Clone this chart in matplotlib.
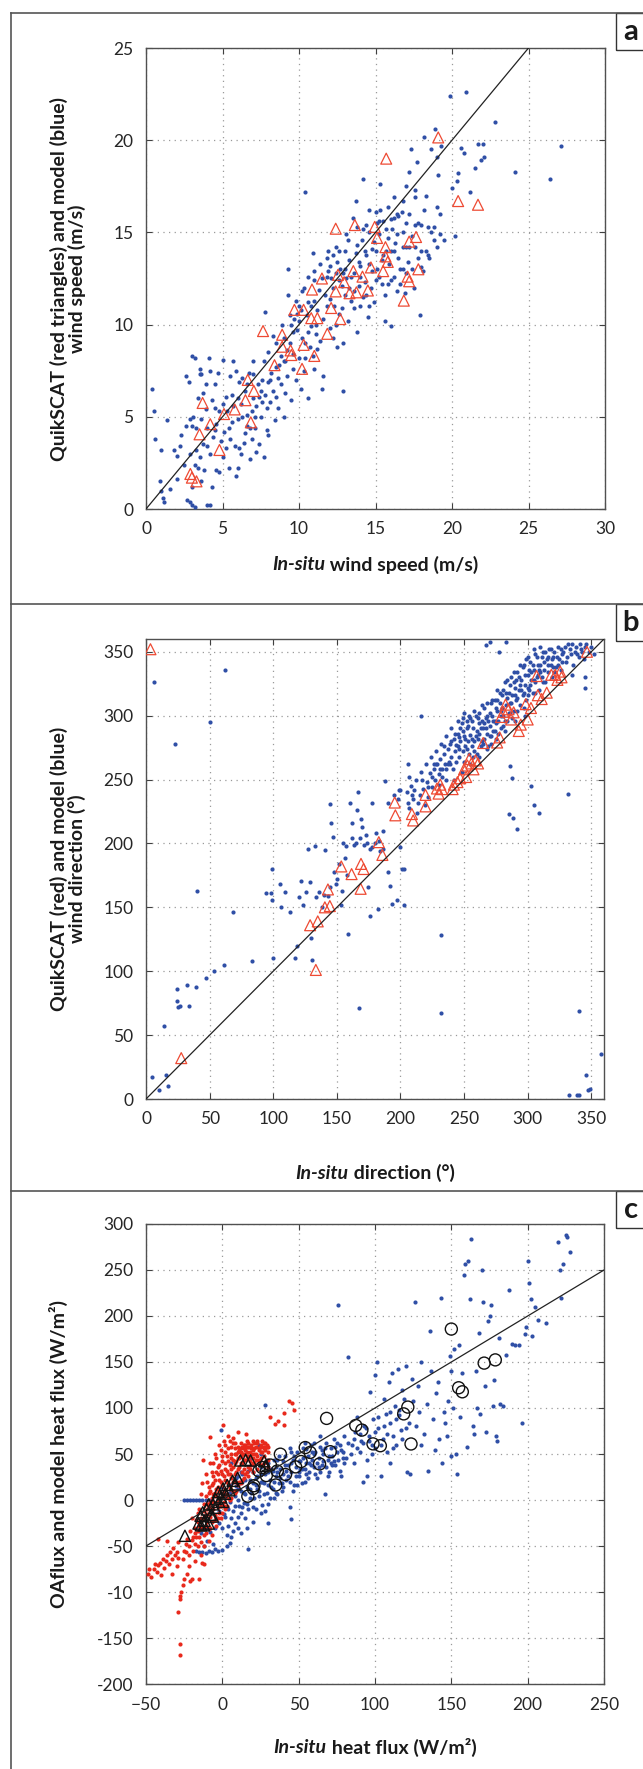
import numpy as np
import matplotlib
matplotlib.use("Agg")
import matplotlib.pyplot as plt
from matplotlib.lines import Line2D
from matplotlib.patches import Rectangle

# =========================================================
# DATA
# =========================================================
# panel a: wind speed (m/s), in-situ vs model (blue) / QuikSCAT (red)
speed_model = [
    (0.4, 6.5), (0.5, 5.3), (0.6, 3.8), (0.9, 1.5), (1.0, 1.0), (1.1, 0.6), (1.2, 0.4), (1.0, 3.2),
    (1.4, 4.8), (1.6, 1.1), (1.8, 3.2), (2.0, 2.9), (2.2, 3.4), (2.5, 2.4), (2.6, 4.5), (2.6, 7.2),
    (2.8, 6.9), (2.7, 0.5), (2.9, 0.4), (3.0, 0.2), (3.2, 0.1), (3.0, 8.3), (3.2, 8.2), (3.0, 4.5),
    (3.1, 5.0), (3.3, 4.4), (3.4, 6.0), (3.5, 7.3), (3.5, 7.6), (3.6, 7.3), (3.2, 2.4), (3.4, 2.2),
    (3.6, 1.5), (3.7, 3.5), (3.8, 2.1), (3.0, 1.2), (3.3, 3.2), (3.7, 6.3), (3.9, 5.4), (4.0, 4.4),
    (4.1, 8.2), (4.2, 7.5), (4.3, 1.2), (4.0, 0.2), (4.2, 0.2), (4.5, 6.8), (4.6, 4.6), (4.6, 2.1),
    (4.8, 2.0), (4.8, 5.3), (4.9, 3.7), (5.0, 8.1), (4.4, 3.9), (2.9, 4.9), (3.9, 6.8), (4.3, 5.9),
    (5.1, 4.2), (5.2, 3.3), (5.3, 5.3), (5.4, 2.2), (5.5, 7.2), (5.6, 6.2), (5.7, 8.0), (5.8, 3.4),
    (5.9, 1.8), (6.0, 4.9), (6.0, 2.2), (6.1, 6.9), (6.2, 5.7), (6.3, 7.1), (6.4, 3.6), (6.5, 4.1),
    (6.5, 6.4), (6.6, 5.1), (6.7, 7.4), (6.8, 2.7), (6.9, 3.8), (7.0, 6.0), (7.0, 8.0), (7.1, 4.4),
    (7.2, 5.6), (7.3, 6.8), (7.4, 3.5), (7.5, 5.0), (7.6, 7.0), (7.7, 2.8), (7.8, 6.2), (7.8, 10.7),
    (7.9, 4.3), (8.0, 8.5), (8.1, 5.8), (8.2, 7.4), (8.3, 6.4), (8.4, 4.8), (8.5, 9.0), (8.6, 5.5),
    (8.7, 7.8), (8.8, 6.8), (8.9, 10.0), (9.0, 8.0), (9.1, 6.3), (9.2, 7.2), (9.3, 11.6), (9.3, 13.0),
    (9.4, 9.0), (9.5, 5.9), (9.6, 8.4), (9.7, 10.3), (9.8, 7.0), (9.9, 9.7), (10.0, 8.2), (10.0, 11.0),
    (10.1, 6.5), (10.2, 9.3), (10.3, 7.5), (10.3, 12.0), (10.4, 17.2), (10.5, 10.5), (10.6, 6.0),
    (10.7, 8.8), (10.8, 9.9), (10.9, 13.9), (11.0, 11.3), (11.0, 7.6), (11.1, 9.5), (11.2, 10.8),
    (5.6, 4.7), (6.2, 3.0), (6.9, 5.3), (7.4, 6.1), (8.0, 4.0), (8.6, 7.1), (9.0, 5.0), (9.6, 7.6),
    (10.4, 9.0), (10.9, 8.3), (11.3, 11.9), (11.4, 9.1), (11.6, 7.2),
    (11.5, 12.5), (11.5, 6.5), (11.8, 11.0), (11.9, 14.0), (12.0, 9.8), (12.0, 13.2), (12.2, 12.0),
    (12.3, 11.0), (12.4, 14.2), (12.5, 8.8), (12.6, 10.6), (12.7, 13.0), (12.8, 12.1), (12.9, 6.4),
    (12.9, 9.0), (13.0, 14.0), (13.1, 12.5), (13.2, 10.2), (13.3, 13.5), (13.4, 11.3), (13.5, 15.8),
    (13.6, 12.8), (13.7, 16.7), (13.8, 9.6), (13.9, 13.4), (14.0, 11.0), (14.1, 14.6), (14.2, 17.9),
    (14.3, 12.3), (14.4, 13.8), (14.5, 10.4), (14.6, 15.0), (14.7, 12.0), (14.8, 14.1), (14.9, 11.2),
    (15.0, 16.1), (15.1, 13.0), (15.2, 14.9), (15.3, 17.6), (15.4, 12.2), (15.5, 15.6), (15.6, 10.2),
    (15.7, 14.0), (15.8, 16.4), (15.9, 13.3), (16.0, 9.9), (16.1, 15.2), (16.2, 12.6), (16.3, 14.4),
    (16.4, 11.8), (16.5, 15.9), (16.6, 13.0), (16.7, 16.1), (16.8, 14.2), (16.9, 11.7), (17.0, 15.5),
    (17.1, 13.4), (17.2, 18.3), (17.3, 19.5), (17.4, 14.8), (17.5, 12.0), (17.6, 16.9), (17.7, 18.8),
    (17.8, 13.6), (17.9, 10.5), (18.0, 15.4), (18.1, 12.9), (18.2, 20.2), (18.3, 14.0), (18.4, 15.3),
    (18.5, 13.6), (18.6, 19.5), (18.8, 14.6), (18.9, 20.6), (19.0, 16.4), (19.1, 18.1), (19.2, 16.0),
    (19.3, 19.7), (19.5, 14.6), (19.9, 22.4), (20.0, 17.4), (20.2, 14.8), (20.3, 17.8), (20.4, 18.2),
    (20.6, 19.6), (20.8, 19.3), (20.9, 22.6), (21.2, 17.2), (21.5, 18.5), (21.7, 19.8), (21.9, 18.9),
    (22.0, 19.8), (22.1, 19.1), (22.8, 21.0), (24.1, 18.3), (26.4, 17.9), (27.1, 19.7),
    (12.2, 13.8), (12.6, 12.4), (13.0, 11.6), (13.3, 12.0), (13.7, 13.9), (14.0, 12.6), (14.2, 15.2),
    (14.6, 13.3), (14.9, 14.5), (15.2, 12.6), (15.5, 13.8), (15.7, 15.2), (16.0, 14.0), (16.2, 15.8),
    (16.5, 13.6), (16.8, 15.0), (17.2, 14.2), (17.6, 15.4), (18.0, 14.0), (18.6, 15.0), (19.0, 14.2),
    (11.8, 12.6), (12.4, 10.0), (13.6, 11.8), (14.4, 11.6), (15.0, 12.4), (15.8, 12.2), (16.4, 14.9),
    (17.0, 12.8), (11.0, 12.4), (10.6, 11.2), (9.9, 10.6),
    (2.0, 1.6), (2.3, 4.0), (2.9, 3.0), (3.6, 4.9), (4.2, 3.0), (4.5, 5.5), (4.7, 7.4), (5.0, 2.8),
    (5.2, 6.1), (5.4, 4.4), (5.7, 5.6), (5.9, 7.5), (6.1, 3.3), (6.3, 5.0), (6.6, 6.8), (6.8, 4.4),
    (7.0, 7.3), (7.2, 3.1), (7.5, 6.4), (7.7, 8.0), (7.9, 5.5), (8.1, 7.0), (8.3, 9.4), (8.5, 6.1),
    (8.8, 8.3), (9.0, 9.3), (9.2, 8.6), (9.4, 10.5), (9.6, 9.6), (9.8, 11.3), (10.0, 10.2),
    (10.2, 11.8), (10.4, 8.2), (10.6, 12.6), (10.8, 11.0), (11.0, 12.9), (11.2, 8.7), (11.4, 13.3),
    (11.6, 10.3), (11.8, 13.6), (12.0, 11.4), (12.2, 9.3), (12.4, 12.8), (12.6, 14.0), (12.8, 10.9),
    (13.0, 13.0), (13.2, 14.6), (13.4, 12.6), (13.6, 10.9), (13.8, 14.3), (14.0, 13.2), (14.2, 11.5),
    (14.4, 15.4), (14.6, 11.0), (14.8, 12.9), (15.0, 14.0), (15.2, 15.6), (15.4, 13.5), (15.6, 11.6),
    (15.8, 14.7), (16.0, 12.4), (16.2, 14.0), (16.4, 16.0), (16.6, 12.2), (16.8, 13.0), (17.0, 14.2),
    (17.2, 16.0), (17.4, 13.0), (17.6, 14.2), (17.8, 15.5), (18.0, 13.1), (18.2, 16.2), (18.4, 13.8),
    (18.8, 15.3), (19.2, 14.9), (19.0, 19.1), (18.3, 17.0), (17.0, 17.5), (16.2, 16.9), (15.1, 15.5),
    (14.3, 14.0), (13.9, 12.1), (12.9, 12.8), (12.1, 12.5), (11.7, 11.6), (11.1, 10.0), (10.6, 9.6),
    (10.1, 10.8), (9.5, 10.0), (9.1, 8.0), (8.5, 7.7), (8.0, 6.9), (7.6, 5.8), (7.1, 5.0), (6.6, 4.5),
    (6.0, 6.0), (5.5, 3.8), (5.0, 5.7), (4.5, 4.3), (4.0, 3.4), (3.5, 2.8), (15.3, 16.2), (16.0, 15.7),
    (16.8, 16.7), (17.6, 17.3), (14.6, 16.2), (13.8, 15.3), (13.1, 14.9), (12.5, 13.4), (11.9, 12.9),
]
speed_qscat = [
    (2.9, 1.9), (3.0, 1.7), (3.3, 1.5), (3.5, 4.05), (3.7, 5.75), (4.2, 4.6), (4.8, 3.2), (5.1, 5.15),
    (5.8, 5.4), (6.5, 5.9), (6.65, 7.0), (6.85, 4.7), (7.05, 6.4), (7.65, 9.65), (8.4, 7.8),
    (8.9, 9.45), (8.9, 8.8), (9.45, 8.6), (9.5, 8.35), (9.7, 10.8), (10.3, 8.9), (10.2, 7.6),
    (10.3, 10.8), (10.8, 10.35), (10.85, 11.9), (11.0, 8.3), (11.2, 10.35), (11.5, 12.5),
    (11.85, 9.5), (12.1, 10.9), (12.4, 15.2), (12.4, 11.8), (12.55, 12.7), (12.7, 10.3),
    (12.95, 12.3), (13.3, 11.7), (13.55, 12.9), (13.65, 15.4), (13.75, 11.75), (14.15, 12.6),
    (14.5, 11.85), (14.7, 13.1), (14.95, 15.3), (15.1, 14.7), (15.65, 14.2), (15.7, 19.0),
    (15.5, 12.9), (15.65, 13.7), (15.8, 13.4), (16.85, 11.3), (17.1, 12.6), (17.2, 12.35),
    (17.2, 14.5), (17.65, 14.75), (17.8, 13.0), (19.1, 20.15), (20.4, 16.7), (21.7, 16.5),
]

# panel b: wind direction (degrees)
dir_model = [
    (4.8, 17), (6.5, 326), (10.6, 7), (15.5, 19), (17, 10), (14, 57.5), (23, 278), (24, 77),
    (24.5, 86), (25, 72), (26.8, 72.5), (32.6, 89), (34, 73), (39, 88), (39.7, 163), (46.8, 95),
    (50, 295), (53.5, 100), (61.6, 105), (62, 336), (68, 146), (83, 108), (94.5, 161), (98, 161),
    (99, 180), (99, 156), (100, 110), (105, 168), (106, 150), (109, 162), (113, 146), (117, 110),
    (118.7, 120), (120, 158), (122, 171), (127, 196), (123.5, 152), (126, 162), (129, 170),
    (130.6, 109), (130, 126), (133, 198), (134, 158), (136, 162), (141, 195), (143, 159),
    (144.5, 231), (145.5, 216), (147, 205), (148, 178), (149, 168), (152, 184), (153, 152),
    (155, 200), (156.5, 189), (158, 175), (159, 129), (160, 232), (161.6, 216), (162, 204),
    (163.5, 199), (165.5, 226), (167, 240), (167.4, 71), (168.7, 219), (170, 213), (171, 199),
    (173, 207), (174.5, 166), (176, 143), (177.7, 232), (178, 197), (180.6, 208), (182, 149),
    (184, 194), (186.5, 210), (188, 249), (190.6, 178), (192, 167), (193, 153), (197, 156),
    (197.7, 235), (199.6, 242), (200, 197), (201.6, 180), (202.6, 152), (205.8, 262), (207, 252),
    (138, 150), (140, 160), (145, 166), (150, 172), (154, 163), (157, 198), (165, 200), (168, 204),
    (174, 200), (176, 196), (180, 200), (183, 202), (186, 196), (190, 232), (195, 238),
    (205, 240), (207, 228), (208, 245), (210, 235), (212, 250), (213, 224), (215, 238), (216, 256),
    (218, 243), (219, 230), (220, 262), (221, 248), (222, 236), (223, 255), (224, 268), (225, 244),
    (226, 258), (227, 250), (228, 272), (229, 262), (230, 254), (231, 266), (232, 278), (233, 258),
    (234, 270), (235, 262), (236, 284), (237, 274), (238, 264), (239, 278), (240, 268), (240, 290),
    (241, 258), (242, 282), (243, 272), (244, 264), (245, 286), (245, 276), (246, 268), (247, 280),
    (248, 294), (249, 272), (250, 284), (250, 264), (251, 276), (252, 290), (253, 280), (254, 270),
    (255, 298), (255, 285), (256, 276), (257, 290), (258, 280), (259, 300), (260, 288), (260, 270),
    (261, 282), (262, 294), (263, 276), (264, 308), (265, 290), (266, 282), (267, 298), (268, 286),
    (269, 276), (270, 302), (270, 292), (271, 284), (272, 312), (273, 296), (274, 288), (275, 306),
    (276, 320), (277, 296), (278, 310), (279, 290), (280, 316), (281, 300), (282, 326), (283, 308),
    (284, 296), (285, 318), (286, 310), (287, 330), (288, 316), (289, 304), (290, 322), (291, 312),
    (292, 334), (293, 320), (294, 308), (295, 328), (296, 316), (297, 340), (298, 324), (299, 312),
    (300, 332), (301, 320), (302, 342), (303, 328), (304, 318), (305, 336), (306, 326), (307, 346),
    (308, 332), (309, 320), (310, 340), (311, 330), (312, 350), (313, 336), (314, 326), (315, 344),
    (316, 334), (317, 352), (318, 340), (319, 330), (320, 346), (322, 338), (324, 354), (325, 344),
    (326, 336), (328, 350), (330, 342), (332, 356), (334, 348), (336, 340), (338, 354), (340, 346),
    (342, 352), (344, 344), (346, 356), (348, 350), (350, 354), (352, 348), (345, 330), (335, 332),
    (298, 300), (290, 296), (282, 288), (275, 282), (268, 274), (262, 268), (255, 262), (248, 256),
    (242, 250), (236, 250), (230, 246), (244, 277), (246, 283), (249, 288), (252, 274), (256, 282),
    (258, 272), (262, 286), (264, 280), (266, 294), (268, 300), (271, 278), (274, 296), (277, 286),
    (279, 304), (281, 292), (284, 314), (286, 302), (289, 326), (292, 314), (294, 324), (297, 306),
    (300, 322), (303, 334), (306, 318), (309, 336), (312, 326), (316, 340), (321, 334), (327, 342),
    (225, 252), (228, 262), (231, 258), (234, 276), (237, 262), (240, 280), (243, 286), (246, 274),
    (247, 290), (249, 298), (251, 282), (253, 292), (254, 300), (256, 296), (257, 268), (259, 284),
    (261, 298), (263, 290), (264, 296), (265, 278), (267, 290), (268, 310), (269, 296), (270, 284),
    (272, 300), (273, 288), (274, 312), (275, 294), (276, 304), (278, 318), (279, 300), (280, 306),
    (281, 320), (282, 296), (283, 318), (285, 302), (286, 324), (287, 310), (288, 298), (290, 316),
    (291, 328), (292, 304), (293, 330), (295, 320), (296, 338), (297, 318), (298, 332), (299, 344),
    (300, 316), (301, 336), (302, 324), (304, 340), (305, 328), (306, 348), (307, 330), (308, 340),
    (310, 334), (311, 346), (313, 342), (314, 350), (316, 346), (318, 352), (319, 344), (320, 338),
    (321, 350), (323, 346), (324, 340), (326, 352), (327, 348), (329, 354), (331, 346), (333, 352),
    (335, 356), (337, 350), (339, 348), (341, 356), (343, 350), (345, 354), (239, 262), (236, 258),
    (233, 252), (226, 262), (222, 244), (217, 250), (214, 232), (211, 242), (209, 238), (206, 232),
    (245, 296), (250, 302), (252, 296), (258, 304), (262, 302), (266, 306), (271, 310), (276, 312),
    (284, 328), (289, 334), (294, 340), (300, 346), (305, 352), (310, 354),
    (232, 128), (232, 67), (286.5, 261), (288, 251), (285, 223), (288.5, 220), (291.8, 211),
    (302.9, 245), (304.8, 230), (308.7, 224), (332, 239), (340, 69), (345, 322), (346, 19),
    (349, 8), (347.7, 7), (332.6, 3), (338.7, 3), (340, 3.5), (358, 35), (277.7, 350),
    (282.6, 358), (267, 355), (270.6, 358), (216, 300), (199, 242), (203, 180),
]
dir_qscat = [
    (3.5, 352), (27.7, 32), (133.5, 101), (129, 136), (135, 139), (140.6, 150), (143, 164),
    (144.5, 151), (153.5, 182), (161.6, 176), (169, 184), (171, 180), (168.7, 164.5), (183, 201),
    (185.8, 191), (195.5, 232), (196, 222), (209, 223), (210, 218), (219.7, 238), (219.7, 229),
    (228.7, 243), (230, 239), (231.3, 246), (232.6, 242.5), (241, 242.5), (242, 246), (244.8, 248),
    (247, 251), (250, 258), (251.6, 252), (252.6, 261), (254, 266), (255.8, 262.6), (257.4, 258),
    (259, 265), (261, 262.6), (265, 278.6), (276, 279), (278, 283), (281, 303), (279, 299),
    (282.6, 308.6), (285, 305), (287, 297), (289, 302.6), (293, 288), (294.6, 293), (298.5, 309),
    (300, 297), (302.6, 306), (307, 331), (308, 316), (311, 313), (315, 318), (318.6, 332),
    (321.7, 332), (323.4, 328), (325.6, 334.5), (326.6, 330), (346.6, 350),
]

# panel c: heat flux (W/m2)
flux_model = [
    (-25, 0), (-23, 0), (-21, 0), (-19, 0), (-17, 0), (-15, 0), (-13, 0), (-11, 0), (-9, 0), (-7, 0),
    (-17, -55), (-15, -57), (-13, -56), (-11, -58), (-9, -55), (-7, -57), (-5, -53), (-3, -55),
    (0, -54), (3, -50), (5, -47), (-14, -36), (-10, -30),
    (-4, -20), (-2, -12), (0, -5), (1, -15), (2, 2), (3, -8), (4, 6), (5, -2), (6, 10), (7, -12),
    (8, 4), (9, 15), (10, 0), (11, -6), (12, 10), (13, 20), (14, -3), (15, 6), (16, 14), (17, -10),
    (18, 22), (19, 8), (20, 30), (21, 2), (22, 16), (23, 26), (24, 10), (25, 36), (26, -5),
    (27, 18), (28, 28), (29, 8), (30, 40), (31, 22), (32, 14), (33, 32), (34, 2), (35, 26),
    (36, 44), (37, 18), (38, 34), (39, 10), (40, 28), (41, 48), (42, 22), (43, 38), (44, -8),
    (45, 30), (46, 44), (47, 16), (48, 36), (49, 52), (50, 26), (51, 42), (52, 34), (53, 56),
    (54, 20), (55, 40), (56, 48), (57, 30), (58, 60), (59, 44), (60, 36), (61, 52), (62, 24),
    (63, 46), (64, 58), (65, 38), (66, 50), (67, 6), (68, 62), (69, 44), (70, 30), (71, 56),
    (72, 48), (73, 66), (74, 38), (75, 52), (76, 212), (77, 60), (78, 26), (79, 46), (80, 70),
    (-1, 76), (18, 45), (28, 103), (25, 50), (15, -20), (10, -30), (22, -10), (30, -4), (35, 8),
    (45, -21), (17, -53), (6, 40), (12, 30), (24, 60), (34, 44), (44, 56), (54, 62), (64, 70),
    (82, 155), (85, 60), (86, 40), (87, 74), (88, 90), (90, 52), (91, 64), (92, 20), (93, 80),
    (95, 44), (96, 70), (97, 117), (98, 60), (99, 88), (100, 136), (101, 150), (102, 78), (104, 26),
    (105, 66), (106, 110), (107, 94), (108, 52), (109, 128), (110, 84), (111, 138), (112, 70),
    (113, 102), (114, 60), (115, 142), (116, 92), (117, 76), (118, 120), (119, 110), (120, 146),
    (121, 30), (122, 84), (123, 28), (124, 132), (125, 108), (126, 215), (127, 80), (128, 124),
    (129, 96), (130, 150), (132, 72), (134, 104), (135, 32), (136, 184), (137, 140), (138, 88),
    (139, 54), (140, 116), (141, 128), (142, 66), (143, 220), (144, 40), (145, 96), (146, 84),
    (147, 70), (148, 108), (149, 156), (150, 140), (151, 100), (152, 164), (153, 50), (154, 28),
    (155, 168), (156, 90), (157, 138), (158, 245), (159, 256), (160, 58), (161, 260), (162, 218),
    (163, 284), (164, 80), (165, 72), (166, 140), (167, 100), (168, 182), (169, 94), (170, 250),
    (171, 215), (172, 124), (173, 74), (174, 195), (175, 200), (176, 212), (177, 102), (178, 130),
    (179, 70), (180, 64), (181, 176), (182, 104), (184, 102), (186, 158), (188, 228), (190, 170),
    (192, 168), (194, 168), (196, 84), (198, 180), (199, 188), (200, 260), (201, 236), (202, 218),
    (203, 178), (205, 210), (207, 196), (212, 192), (220, 280), (221, 250), (222, 220), (223, 256),
    (225, 288), (228, 270), (226, 286), (95, 26), (100, 56), (110, 40), (130, 60), (150, 48),
    (2, -18), (4, -10), (6, -20), (8, -6), (10, 12), (12, -14), (14, 8), (16, -4), (18, 12), (20, -8),
    (22, 24), (24, 4), (26, 20), (28, -12), (30, 16), (32, 34), (34, 20), (36, 6), (38, 24), (40, 14),
    (42, 32), (44, 20), (46, 10), (48, 26), (50, 42), (52, 18), (54, 34), (56, 24), (58, 38),
    (60, 50), (62, 40), (64, 30), (66, 42), (68, 36), (70, 48), (72, 38), (74, 58), (76, 44),
    (78, 54), (80, 40), (82, 62), (84, 50), (86, 66), (88, 56), (90, 72), (92, 62), (94, 78),
    (96, 64), (98, 50), (100, 74), (102, 90), (104, 60), (106, 80), (108, 72), (110, 96), (112, 56),
    (114, 88), (116, 98), (118, 66), (120, 78), (5, 16), (9, 24), (13, 28), (17, 32), (21, 38),
    (25, 20), (29, 44), (33, 12), (37, 48), (41, 38), (45, 52), (49, 16), (53, 46), (57, 40),
    (61, 28), (65, 54), (69, 26), (73, 42), (77, 32), (81, 46), (60, 62), (55, 55), (50, 30),
    (45, 40), (40, 42), (35, 36), (30, 30), (25, 28), (20, 18), (15, 22), (10, 26), (5, 8), (0, 14),
    (-2, -25), (-5, -30), (-8, -35), (0, -30), (3, -38), (8, -25), (12, -36), (16, -30), (20, -24),
    (25, -14), (30, -25), (6, -40), (-10, -45), (-12, -50), (-6, -48),
    (4, -28), (7, -34), (10, -18), (13, -8), (18, 2), (23, 12), (27, 6), (31, 2), (36, 30), (39, 18),
    (43, 26), (47, 48), (51, 34), (55, 28), (59, 52), (63, 36), (67, 56), (71, 40), (75, 62), (79, 52),
]
flux_oaflux = [
    (-49, -80), (-48, -75), (-47, -84), (-45, -75), (-44, -70), (-43, -78), (-42, -71), (-41, -68),
    (-40, -82), (-39, -64), (-38, -74), (-37, -66), (-36, -60), (-35, -70), (-34, -56), (-33, -64),
    (-32, -52), (-31, -60), (-30, -56), (-29, -46), (-29, -63), (-28, -104), (-28, -108),
    (-27, -100), (-29, -122), (-28, -156), (-28, -169), (-26, -92), (-25, -86), (-25, -55),
    (-24, -48), (-23, -80), (-22, -72), (-21, -88), (-20, -86), (-19, -55), (-18, -48), (-17, -40),
    (-16, -34), (-15, -28), (-14, -46), (-13, -68), (-12, -38), (-42, -42), (-36, -45),
    (-12.7, 43.5), (-8.3, 68.9), (10, 74.2), (15.3, 72), (7.3, 67.7), (0.5, 81), (31.5, 90.6),
    (36.3, 85.7), (40.3, 81.8), (43.8, 107.7), (45.4, 105.8), (47, 98), (40.6, 95), (34.7, 83),
    (-14, -20), (-12, -12), (-10, -24), (-9, -6), (-8, -18), (-7, 2), (-6, -10), (-5, 8), (-4, -4),
    (-3, 14), (-2, 0), (-1, 20), (0, 6), (1, 26), (2, 12), (3, 32), (4, 18), (5, 38), (6, 24),
    (7, 44), (8, 28), (9, 50), (10, 34), (11, 54), (12, 40), (13, 58), (14, 44), (15, 60), (16, 48),
    (17, 62), (18, 52), (19, 56), (20, 64), (21, 50), (22, 58), (23, 62), (24, 54), (25, 60),
    (26, 64), (27, 56), (28, 62), (29, 58), (30, 52), (-11, 4), (-9, 14), (-6, 26), (-3, 36),
    (0, 42), (3, 48), (-16, -14), (-13, -30), (-11, -36), (-8, -30), (-5, -22), (-2, -14),
    (1, -6), (4, 2), (7, 10), (10, 16), (13, 22), (16, 30), (19, 38), (22, 44), (25, 46),
    (-10, 20), (-7, 30), (-4, 46), (-1, 54), (2, 60), (5, 64), (-15, -40), (-12, -50), (-18, -30),
    (-20, -20), (-6, 40), (8, 56), (12, 48), (-1, 32), (2, 40), (6, 50), (14, 34), (18, 42),
    (20, 46), (24, 40), (27, 48), (30, 44),
    (-13, -22), (-11, -28), (-9, -32), (-7, -24), (-5, -16), (-3, -8), (-1, 2), (1, 10), (3, 20),
    (5, 28), (7, 36), (9, 42), (11, 46), (13, 50), (15, 54), (17, 58), (19, 60), (21, 62), (23, 64),
    (25, 58), (27, 62), (29, 60), (-12, -4), (-10, -10), (-8, -2), (-6, 6), (-4, 12), (-2, 22),
    (0, 28), (2, 34), (4, 42), (6, 46), (8, 50), (10, 58), (12, 62), (14, 56), (16, 52), (18, 58),
    (20, 54), (-15, -10), (-17, -22), (-19, -40), (-21, -34), (-23, -42), (-16, -50), (-14, -60),
    (-12, -70), (-9, -45), (-7, -38), (-4, -28), (-1, -20), (2, -10), (5, 0), (8, 8), (11, 20),
    (14, 24), (17, 26), (20, 30), (23, 34), (26, 38), (-26, -64), (-30, -72), (-33, -80),
    (-22, -60), (-18, -66), (-15, -86),
    (-10, -15), (-8, -8), (-6, -2), (-4, 4), (-2, 10), (0, 16), (2, 22), (4, 28), (6, 34), (8, 40),
    (10, 46), (12, 52), (14, 60), (16, 64), (18, 48), (20, 40), (22, 50), (24, 56), (26, 52),
    (28, 54), (30, 58), (-9, 8), (-7, 16), (-5, 22), (-3, 28), (-1, -6), (1, -2), (3, 6), (5, 12),
    (7, 20), (9, 30), (11, 36), (13, 40), (15, 44), (17, 46), (19, 50), (21, 56), (23, 48),
    (25, 52), (27, 58), (-14, -30), (-12, -20), (-10, -4), (-8, 10), (-6, 18), (-4, 30), (-2, 38),
    (0, 48), (2, 52), (4, 56), (6, 58), (8, 62), (10, 52), (12, 56), (14, 50), (16, 58), (-3, -20),
    (0, -14), (3, -6), (6, 2), (9, 10), (12, 18), (15, 28), (18, 34), (21, 40), (24, 44), (27, 40),
    (30, 36), (-16, -24), (-18, -36), (-20, -44), (-22, -50), (-24, -56), (-11, -16), (-7, -10),
    (-3, -2), (1, 4), (5, 14), (9, 20), (13, 30), (17, 36), (-8, 40), (-5, 50), (-2, 60), (1, 64),
    (4, 70), (7, 62), (-11, 28), (-13, 18), (-14, 6),
]
flux_oaflux_bin = [
    (-24.5, -38.9), (-14.2, -17.2), (-12.9, -13.4), (-11.6, -22.5), (-10.2, -10.3), (-8.9, -25.6),
    (-15.6, -25.6), (-12, -27.5), (-7.6, -16), (-6.2, -4.7), (-4.3, 1), (-2.7, 8.7), (-0.8, 3),
    (0.5, 12.5), (1.9, 6.8), (3.2, 16.3), (4.6, 10.6), (6.7, 20.9), (8.6, 17), (10, 24),
    (11.8, 43), (15.3, 43.7), (18.5, 43), (27.4, 42.2), (28.2, 37.2), (-2.2, -2), (0.5, -2),
    (-4.8, -8.4), (-8.9, -4.7), (-6.2, -18), (-14, -27.5),
]
flux_model_bin = [
    (150, 185.8), (171.5, 148.8), (178.8, 152.3), (154.8, 122), (157.2, 117.6), (121.5, 101),
    (118.8, 93.6), (123.6, 60.9), (98.7, 61), (103.5, 59), (87.4, 81), (91.4, 76), (68.3, 88.7),
    (70.7, 52.5), (63.7, 39.2), (54.3, 57), (57.5, 51.7), (51.6, 41.8), (48, 36), (38, 49.8),
    (31.5, 38), (28.8, 26.6), (36, 31.5), (41.4, 27.7), (35, 16.3), (24, 31.5), (20.7, 15.5),
    (20.2, 12.5), (16.7, 4.1), (26, 35.3),
]

flux_yticks = [-200, -150, -100, -50, 0, 50, 100, 150, 200, 250, 300]
flux_yticklabels = ["-200", "-150", "-10", "-50", "0", "50", "100", "150", "200", "250", "300"]

# =========================================================
# PLOT SETTINGS
# =========================================================
W, H = 643, 1769
DPI = 100

plt.rcParams.update({
    "font.family": ["Lato", "DejaVu Sans"],
    "font.size": 12.5,
    "xtick.labelsize": 12.5,
    "ytick.labelsize": 12.5,
    "axes.linewidth": 1.0,
})

BLUE = "#2f4fa6"
RED = "#e8291c"
TRI_RED = "#ee4a33"
SPINE = "#505050"
LABEL_SIZE = 14

fig = plt.figure(figsize=(W / DPI, H / DPI), dpi=DPI)


def px_axes(left, top, right, bottom):
    return fig.add_axes([left / W, 1 - bottom / H, (right - left) / W, (bottom - top) / H])


def style_axes(ax, xlim, ylim, xticks, yticks):
    ax.set_xlim(*xlim)
    ax.set_ylim(*ylim)
    ax.set_xticks(xticks)
    ax.set_yticks(yticks)
    ax.grid(True, color="#9a9a9a", linestyle=(0, (1, 3.5)), linewidth=0.9)
    ax.set_axisbelow(True)
    ax.tick_params(direction="in", length=4, width=0.8, color="#404040",
                   top=True, right=True, pad=9, labelcolor="#262626")
    for s in ax.spines.values():
        s.set_color(SPINE)
        s.set_linewidth(1.0)


def xlabel_parts(ax, italic, rest, y_px):
    # bold-italic "In-situ" followed by bold plain text, centred under the axes
    pos = ax.get_position()
    xc = pos.x0 + pos.width / 2
    t1 = fig.text(xc, 1 - y_px / H, italic, fontsize=LABEL_SIZE, fontweight="bold",
                  fontstyle="italic", ha="left", va="center", color="#1a1a1a")
    t2 = fig.text(xc, 1 - y_px / H, rest, fontsize=LABEL_SIZE, fontweight="bold",
                  ha="left", va="center", color="#1a1a1a")
    r = fig.canvas.get_renderer()
    w1 = t1.get_window_extent(r).width / W
    w2 = t2.get_window_extent(r).width / W
    start = xc - (w1 + w2) / 2
    t1.set_x(start)
    t2.set_x(start + w1)


def ylabel(ax, lines, x_px):
    pos = ax.get_position()
    yc = pos.y0 + pos.height / 2
    fig.text(x_px / W, yc, lines, rotation=90, fontsize=LABEL_SIZE, fontweight="bold",
             ha="center", va="center", color="#1a1a1a", linespacing=1.0)


def scatter_pts(ax, pts, **kw):
    arr = np.array(pts, dtype=float)
    ax.scatter(arr[:, 0], arr[:, 1], **kw)


# =========================================================
# FRAME + PANEL LETTERS
# =========================================================
frame = dict(color="#555555", linewidth=1.2, transform=fig.transFigure)
fig.add_artist(Line2D([11 / W, 1], [1 - 13 / H, 1 - 13 / H], **frame))
fig.add_artist(Line2D([11 / W, 11 / W], [1 - 13 / H, 0], **frame))
fig.add_artist(Line2D([11 / W, 1], [1 - 604 / H, 1 - 604 / H], **frame))
fig.add_artist(Line2D([11 / W, 1], [1 - 1191 / H, 1 - 1191 / H], **frame))

for letter, top in [("a", 13), ("b", 604), ("c", 1191)]:
    fig.add_artist(Rectangle((616 / W, 1 - (top + 37) / H), 40 / W, 37 / H,
                             transform=fig.transFigure, fill=False,
                             edgecolor="#333333", linewidth=1.0))
    fig.text(631 / W, 1 - (top + 19) / H, letter, fontsize=21, fontweight="bold",
             ha="center", va="center", color="#1a1a1a")

# =========================================================
# PANEL A
# =========================================================
ax = px_axes(146, 48, 605, 509)
style_axes(ax, (0, 30), (0, 25), range(0, 31, 5), range(0, 26, 5))
scatter_pts(ax, speed_model, s=9, color=BLUE, linewidths=0, zorder=3)
scatter_pts(ax, speed_qscat, s=62, marker="^", facecolors="none", edgecolors=TRI_RED,
            linewidths=0.9, zorder=4)
ax.plot([0, 25], [0, 25], color="#222222", linewidth=0.9, zorder=5)
xlabel_parts(ax, "In-situ", " wind speed (m/s)", 565)
ylabel(ax, "QuikSCAT (red triangles) and model (blue)\nwind speed (m/s)", 68)

# =========================================================
# PANEL B
# =========================================================
ax = px_axes(146, 639, 604, 1099)
style_axes(ax, (0, 360), (0, 360), range(0, 351, 50), range(0, 351, 50))
scatter_pts(ax, dir_model, s=9, color=BLUE, linewidths=0, zorder=3)
scatter_pts(ax, dir_qscat, s=62, marker="^", facecolors="none", edgecolors=TRI_RED,
            linewidths=0.9, zorder=4)
ax.plot([0, 360], [0, 360], color="#222222", linewidth=0.9, zorder=5)
xlabel_parts(ax, "In-situ", " direction (°)", 1173)
ylabel(ax, "QuikSCAT (red) and model (blue)\nwind direction (°)", 68)

# =========================================================
# PANEL C
# =========================================================
ax = px_axes(146, 1224, 604, 1684)
style_axes(ax, (-50, 250), (-200, 300), range(-50, 251, 50), flux_yticks)
ax.set_yticklabels(flux_yticklabels)
scatter_pts(ax, flux_model, s=9, color=BLUE, linewidths=0, zorder=3)
scatter_pts(ax, flux_oaflux, s=9, color=RED, linewidths=0, zorder=3)
scatter_pts(ax, flux_oaflux_bin, s=65, marker="^", facecolors="none", edgecolors="#111111",
            linewidths=1.0, zorder=4)
scatter_pts(ax, flux_model_bin, s=75, marker="o", facecolors="none", edgecolors="#111111",
            linewidths=1.0, zorder=4)
ax.plot([-50, 250], [-50, 250], color="#222222", linewidth=0.9, zorder=5)
xlabel_parts(ax, "In-situ", " heat flux (W/m²)", 1747)
ylabel(ax, "OAflux and model heat flux (W/m²)", 58)

fig.savefig("out.png", dpi=DPI)
